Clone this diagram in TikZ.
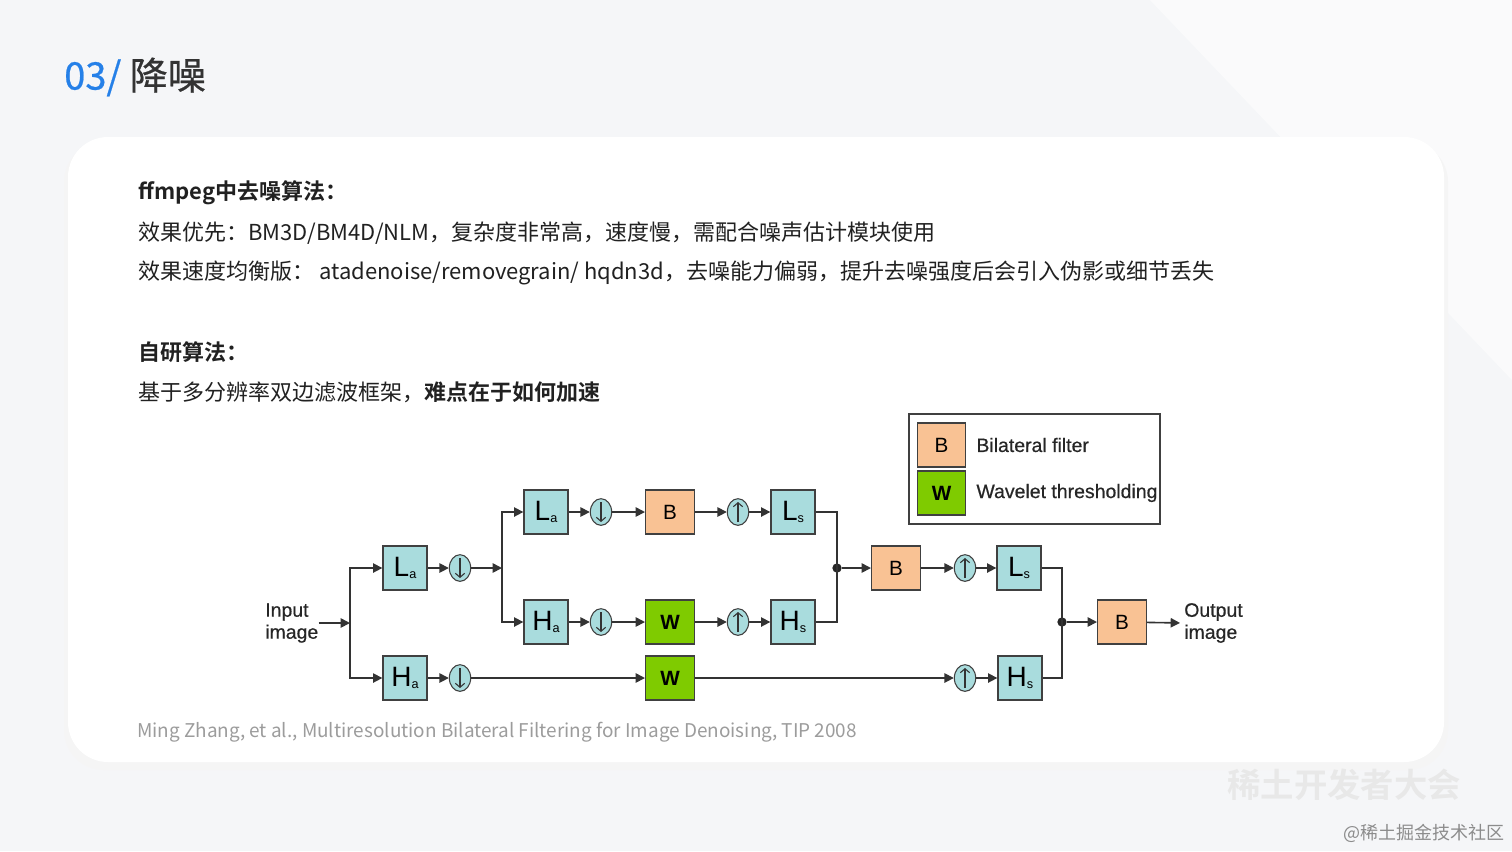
\documentclass[tikz,border=0pt]{standalone}
\usepackage{fontspec}
\setmainfont{Noto Sans CJK SC}[BoldFont={Noto Sans CJK SC Bold}]
\newfontfamily\titlefont{Noto Sans CJK SC}[FakeBold=0.6]
\newfontfamily\arialfont{Liberation Sans}
\newfontfamily\arialmed{Liberation Sans}[FakeBold=0.5]
\usepackage{xcolor}
\usetikzlibrary{positioning,arrows.meta,shapes.geometric}
\definecolor{bluehead}{HTML}{2580E8}
\definecolor{cyanbox}{HTML}{A9DCDD}
\definecolor{orangebox}{HTML}{F9C294}
\definecolor{greenbox}{HTML}{7FCB00}
\definecolor{pagebg}{HTML}{F5F6F8}
\definecolor{citegray}{HTML}{9C9C9C}
\newcommand{\sublab}[2]{{\fontsize{21}{21}\selectfont #1}\raisebox{-1.5pt}{\fontsize{9.5}{9.5}\selectfont #2}}

\begin{document}
\begin{tikzpicture}[x=0.75pt, y=-0.75pt,
  blk/.style={draw=black!75, line width=1pt, fill=cyanbox, minimum width=33pt, minimum height=33pt, inner sep=0pt, font=\arialfont},
  bil/.style={blk, fill=orangebox, minimum width=36.5pt, font=\arialfont\fontsize{15.5}{15.5}\selectfont},
  wav/.style={bil, fill=greenbox, font=\arialfont\bfseries\fontsize{15.5}{15.5}\selectfont},
  smp/.style={ellipse, draw=black!75, line width=0.8pt, fill=cyanbox, minimum width=16pt, minimum height=20pt, inner sep=0pt},
  dnsmp/.style={smp, path picture={\draw[line width=0.8pt, black!80, -{Straight Barb[length=3pt,width=7pt]}] ([yshift=-2.5pt]path picture bounding box.north) -- ([yshift=2.5pt]path picture bounding box.south);}},
  upsmp/.style={smp, path picture={\draw[line width=0.8pt, black!80, -{Straight Barb[length=3pt,width=7pt]}] ([yshift=2.5pt]path picture bounding box.south) -- ([yshift=-2.5pt]path picture bounding box.north);}},
  arr/.style={-{Triangle[length=7pt,width=7pt]}, line width=1.2pt, black!80},
  ln/.style={line width=1.2pt, black!80},
  dot/.style={circle, fill=black!85, inner sep=0pt, minimum size=7pt},
  txt/.style={anchor=west, inner sep=0pt, font=\fontsize{16.5}{20}\selectfont, text=black!87},
  hd/.style={txt, font=\bfseries\fontsize{16.5}{20}\selectfont},
  lbl/.style={font=\arialmed\fontsize{14.6}{16.5}\selectfont, align=left, inner sep=0pt, text=black!85}]
\useasboundingbox (0,0) rectangle (1512,851);
% page and card
\fill[pagebg] (0,0) rectangle (1512,851);
\fill[white, opacity=0.5] (1150,0) -- (1512,0) -- (1512,380) -- cycle;
\fill[black!4, rounded corners=30pt] (64,142) rectangle (1448,770);
\fill[white, rounded corners=30pt] (68,137) rectangle (1444,762);

% title and text
\node[anchor=west, inner sep=0pt, font=\titlefont\fontsize{28.5}{30}\selectfont, text=black!80] (title) at (64,77) {\textcolor{bluehead}{03/} 降噪};
\node[hd] (h1) at (138,193) {ffmpeg中去噪算法：};
\node[txt] (l1) at (138,233) {效果优先：BM3D/BM4D/NLM，复杂度非常高，速度慢，需配合噪声估计模块使用};
\node[txt] (l2) at (138,273) {效果速度均衡版： atadenoise/removegrain/ hqdn3d，去噪能力偏弱，提升去噪强度后会引入伪影或细节丢失};
\node[hd] (h2) at (138,352) {自研算法：};
\node[txt] (l3) at (138,392) {基于多分辨率双边滤波框架，\textbf{难点在于如何加速}};
\node[txt, font=\fontsize{14.2}{17}\selectfont, text=citegray] (cite) at (137,732) {Ming Zhang, et al., Multiresolution Bilateral Filtering for Image Denoising, TIP 2008};

% diagram
\node[blk] (La1) at (405,568) {\sublab{L}{a}};
\node[blk] (Ha1) at (405,678) {\sublab{H}{a}};
\node[dnsmp] (d1) at (460,568) {};
\node[dnsmp] (d2) at (460,678) {};
\coordinate (j0) at (350,623);
\coordinate (j1) at (502,568);
\node[blk] (La2) at (546,512) {\sublab{L}{a}};
\node[blk] (Ha2) at (546,622) {\sublab{H}{a}};
\node[dnsmp] (d3) at (601,512) {};
\node[dnsmp] (d4) at (601,622) {};
\node[bil] (B1) at (670,512) {B};
\node[wav] (W1) at (670,622) {W};
\node[wav] (W2) at (670,678) {W};
\node[upsmp] (u1) at (738,512) {};
\node[upsmp] (u2) at (738,622) {};
\node[blk] (Ls2) at (793,512) {\sublab{L}{s}};
\node[blk] (Hs2) at (793,622) {\sublab{H}{s}};
\node[dot] (j2) at (837,568) {};
\node[bil] (B2) at (896,568) {B};
\node[upsmp] (u3) at (965,568) {};
\node[blk] (Ls1) at (1019,568) {\sublab{L}{s}};
\node[upsmp] (u4) at (965,678) {};
\node[blk] (Hs1) at (1020,678) {\sublab{H}{s}};
\node[dot] (j3) at (1062,622) {};
\node[bil] (B3) at (1122,622) {B};
\node[lbl, anchor=west] (inp) at (265,623) {Input\\image};
\node[lbl, anchor=west] (outp) at (1184,623) {Output\\image};

\draw[arr] (inp.east) -- (j0);
\draw[arr] (j0) |- (La1);
\draw[arr] (j0) |- (Ha1);
\draw[arr] (La1) -- (d1);
\draw[arr] (d1) -- (j1);
\draw[arr] (j1) |- (La2);
\draw[arr] (j1) |- (Ha2);
\draw[arr] (Ha1) -- (d2);
\draw[arr] (d2) -- (W2);
\draw[arr] (W2) -- (u4);
\draw[arr] (u4) -- (Hs1);
\draw[arr] (La2) -- (d3);
\draw[arr] (d3) -- (B1);
\draw[arr] (B1) -- (u1);
\draw[arr] (u1) -- (Ls2);
\draw[arr] (Ha2) -- (d4);
\draw[arr] (d4) -- (W1);
\draw[arr] (W1) -- (u2);
\draw[arr] (u2) -- (Hs2);
\draw[ln] (Ls2.east) -| (j2.center) |- (Hs2.east);
\draw[arr] (j2) -- (B2);
\draw[arr] (B2) -- (u3);
\draw[arr] (u3) -- (Ls1);
\draw[ln] (Ls1.east) -| (j3.center) |- (Hs1.east);
\draw[arr] (j3) -- (B3);
\draw[arr, shorten >=3pt] (B3) -- (outp.west);

% legend
\draw[black!75, line width=1pt, fill=white] (909,414) rectangle (1160,524);
\node[bil, minimum width=36pt] (lgB) at (941.5,445) {B};
\node[wav, minimum width=36pt] (lgW) at (941.5,493) {W};
\node[lbl, right=7.5pt of lgB] (lgBt) {Bilateral filter};
\node[lbl, right=7.5pt of lgW] (lgWt) {Wavelet thresholding};

% watermark
\node[inner sep=0pt, font=\bfseries\fontsize{25}{28}\selectfont, text=black!9] (wm) at (1344,785) {稀土开发者大会};
\node[anchor=east, inner sep=0pt, font=\fontsize{13.5}{16}\selectfont, text=black!45] (wm2) at (1505,833) {@稀土掘金技术社区};
\end{tikzpicture}
\end{document}
